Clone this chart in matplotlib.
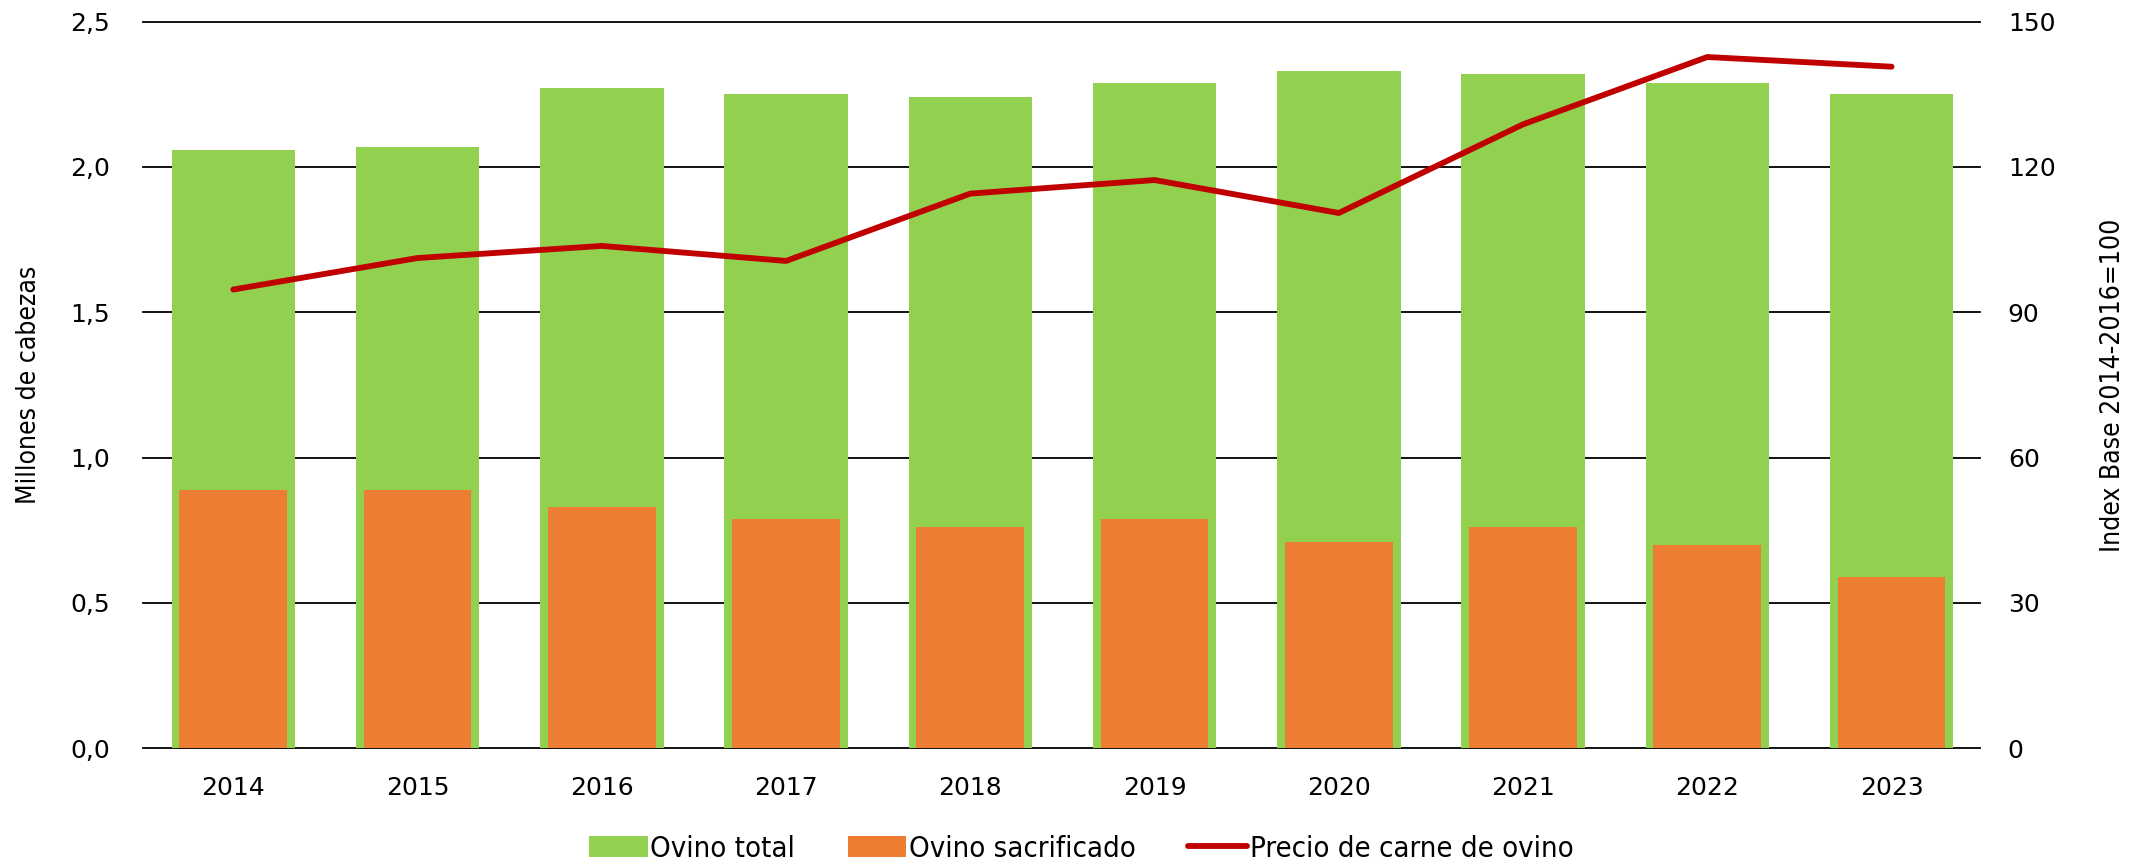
import numpy as np
import matplotlib
matplotlib.use("Agg")
import matplotlib.pyplot as plt
from matplotlib.ticker import FuncFormatter

years = ["2014", "2015", "2016", "2017", "2018", "2019", "2020", "2021", "2022", "2023"]
ovino_total = [2.06, 2.07, 2.27, 2.25, 2.24, 2.29, 2.33, 2.32, 2.29, 2.25]
ovino_sacrificado = [0.89, 0.89, 0.83, 0.79, 0.76, 0.79, 0.71, 0.76, 0.70, 0.59]
precio = [94.7, 101.2, 103.7, 100.6, 114.5, 117.3, 110.5, 128.8, 142.7, 140.7]

GREEN = "#92D050"
ORANGE = "#ED7D31"
RED = "#C00000"

narrow = {"family": "DejaVu Sans", "stretch": "condensed"}

fig = plt.figure(figsize=(21.41, 8.66), dpi=100)
ax = fig.add_axes([0.0668, 0.136, 0.858, 0.839])
x = np.arange(len(years))

ax.bar(x, ovino_total, width=0.67, color=GREEN, label="Ovino total", zorder=2)
ax.bar(x, ovino_sacrificado, width=0.585, color=ORANGE, label="Ovino sacrificado", zorder=3)

ax.set_ylim(0, 2.5)
ax.set_yticks(np.arange(0, 2.51, 0.5))
ax.yaxis.set_major_formatter(FuncFormatter(lambda v, p: f"{v:.1f}".replace(".", ",")))
ax.set_xlim(-0.49, 9.48)
ax.set_xticks(x)
ax.set_xticklabels(years)
ax.grid(axis="y", color="black", linewidth=1.3, zorder=1)
for gl in ax.get_ygridlines():
    gl.set_clip_on(False)
ax.set_axisbelow(True)
for s in ax.spines.values():
    s.set_visible(False)
ax.tick_params(axis="both", length=0, labelsize=18)
ax.tick_params(axis="y", pad=24)
ax.tick_params(axis="x", pad=20)
ax.set_ylabel("Millones de cabezas", fontsize=19, labelpad=20, **narrow)

ax2 = ax.twinx()
ax2.plot(x, precio, color=RED, linewidth=4.2, solid_capstyle="round",
         label="Precio de carne de ovino", zorder=4)
ax2.set_ylim(0, 150)
ax2.set_yticks(np.arange(0, 151, 30))
for s in ax2.spines.values():
    s.set_visible(False)
ax2.tick_params(axis="y", length=0, labelsize=18, pad=20)
ax2.set_ylabel("Index Base 2014-2016=100", fontsize=19, labelpad=32, **narrow)

h1, l1 = ax.get_legend_handles_labels()
h2, l2 = ax2.get_legend_handles_labels()
fig.legend(h1 + h2, l1 + l2, loc="center", bbox_to_anchor=(0.505, 0.02), ncol=3,
           frameon=False, prop={"size": 21, **narrow}, handlelength=2.0,
           handletextpad=0.1, columnspacing=1.8)

fig.savefig("out.png", dpi=100)
